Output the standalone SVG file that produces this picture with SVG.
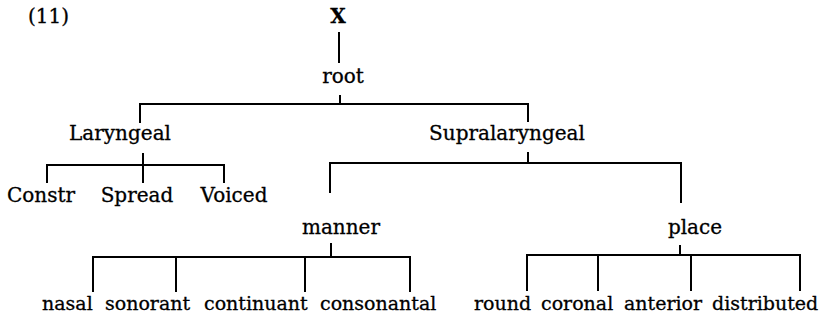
<svg xmlns="http://www.w3.org/2000/svg" width="821" height="322" viewBox="0 0 821 322">
<style>
text{font-family:"DejaVu Serif","Liberation Serif",serif;fill:#000;stroke:#000;stroke-width:0.3;font-size:20px;text-anchor:middle}
.s{font-size:19px;text-anchor:start}
.b{font-weight:bold}
.c line{stroke:#000;stroke-width:2;stroke-linecap:butt}
</style>
<rect width="821" height="322" fill="#fff"/>
<g id="label"><text x="28" y="23" style="text-anchor:start">(11)</text></g>
<g id="n-x"><text class="b" x="338" y="23">X</text></g>
<g id="n-root"><text x="343" y="83">root</text></g>
<g id="n-laryngeal"><text x="120" y="140">Laryngeal</text></g>
<g id="n-supralaryngeal"><text x="507" y="140">Supralaryngeal</text></g>
<g id="n-constr"><text x="41" y="202">Constr</text></g>
<g id="n-spread"><text x="137" y="202">Spread</text></g>
<g id="n-voiced"><text x="234" y="202">Voiced</text></g>
<g id="n-manner"><text x="341" y="234">manner</text></g>
<g id="n-place"><text x="695" y="234">place</text></g>
<g id="n-nasal"><text class="s" x="42" y="310">nasal</text></g>
<g id="n-sonorant"><text class="s" x="105" y="310">sonorant</text></g>
<g id="n-continuant"><text class="s" x="204" y="310">continuant</text></g>
<g id="n-consonantal"><text class="s" x="320" y="310">consonantal</text></g>
<g id="n-round"><text class="s" x="474" y="310">round</text></g>
<g id="n-coronal"><text class="s" x="541" y="310">coronal</text></g>
<g id="n-anterior"><text class="s" x="624" y="310">anterior</text></g>
<g id="n-distributed"><text class="s" x="712" y="310">distributed</text></g>
<g id="connectors" class="c">
<line x1="339" y1="32" x2="339" y2="63"/>
<line x1="340" y1="95" x2="340" y2="104"/>
<line x1="139" y1="104" x2="529" y2="104"/>
<line x1="140" y1="104" x2="140" y2="123"/>
<line x1="528" y1="104" x2="528" y2="122"/>
<line x1="143" y1="153" x2="143" y2="165"/>
<line x1="46" y1="165" x2="225" y2="165"/>
<line x1="47" y1="165" x2="47" y2="183"/>
<line x1="143" y1="165" x2="143" y2="183"/>
<line x1="224" y1="165" x2="224" y2="183"/>
<line x1="528" y1="152" x2="528" y2="163"/>
<line x1="329" y1="163" x2="682" y2="163"/>
<line x1="330" y1="163" x2="330" y2="193"/>
<line x1="681" y1="163" x2="681" y2="203"/>
<line x1="331" y1="243" x2="331" y2="257"/>
<line x1="92" y1="257" x2="411" y2="257"/>
<line x1="93" y1="257" x2="93" y2="292"/>
<line x1="176" y1="257" x2="176" y2="292"/>
<line x1="305" y1="257" x2="305" y2="292"/>
<line x1="410" y1="257" x2="410" y2="292"/>
<line x1="680" y1="245" x2="680" y2="255"/>
<line x1="526" y1="255" x2="801" y2="255"/>
<line x1="527" y1="255" x2="527" y2="291"/>
<line x1="598" y1="255" x2="598" y2="291"/>
<line x1="691" y1="255" x2="691" y2="291"/>
<line x1="800" y1="255" x2="800" y2="291"/>
</g>
</svg>
